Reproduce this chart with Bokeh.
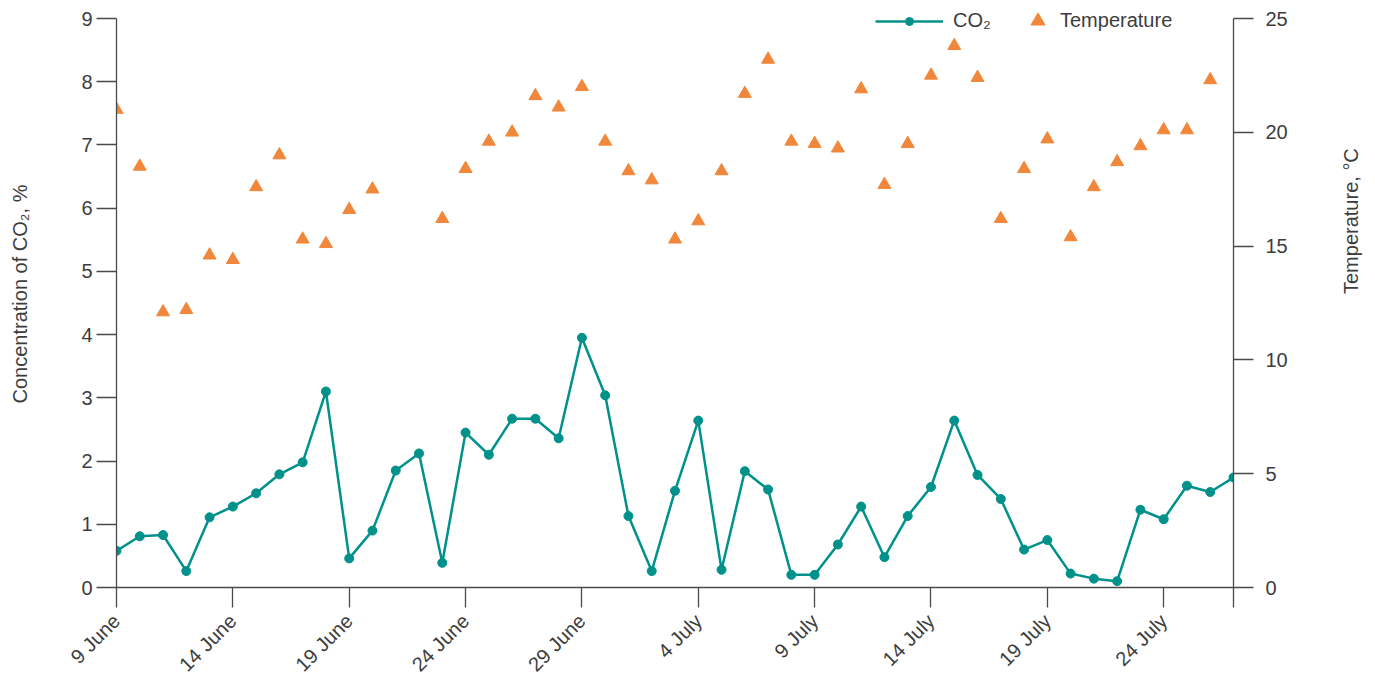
import math
import numpy as np
import pandas as pd
from bokeh.plotting import figure
from bokeh.models import (ColumnDataSource, LinearAxis, Range1d, FixedTicker,
                          Legend, LegendItem, CustomJSTickFormatter)
from bokeh.embed import file_html
from bokeh.resources import INLINE

# ---------------- data ----------------
dates = [
    "2017-06-09", "2017-06-10", "2017-06-11", "2017-06-12", "2017-06-13", "2017-06-14",
    "2017-06-15", "2017-06-16", "2017-06-17", "2017-06-18", "2017-06-19", "2017-06-20",
    "2017-06-21", "2017-06-22", "2017-06-23", "2017-06-24", "2017-06-25", "2017-06-26",
    "2017-06-27", "2017-06-28", "2017-06-29", "2017-06-30", "2017-07-01", "2017-07-02",
    "2017-07-03", "2017-07-04", "2017-07-05", "2017-07-06", "2017-07-07", "2017-07-08",
    "2017-07-09", "2017-07-10", "2017-07-11", "2017-07-12", "2017-07-13", "2017-07-14",
    "2017-07-15", "2017-07-16", "2017-07-17", "2017-07-18", "2017-07-19", "2017-07-20",
    "2017-07-21", "2017-07-22", "2017-07-23", "2017-07-24", "2017-07-25", "2017-07-26",
    "2017-07-27",
]
co2 = [0.58, 0.81, 0.83, 0.26, 1.11, 1.28, 1.49, 1.79, 1.98, 3.10,
       0.46, 0.90, 1.85, 2.12, 0.39, 2.45, 2.10, 2.67, 2.67, 2.36,
       3.95, 3.04, 1.13, 0.26, 1.53, 2.64, 0.28, 1.84, 1.55, 0.20,
       0.20, 0.68, 1.28, 0.48, 1.13, 1.59, 2.64, 1.78, 1.40, 0.60,
       0.75, 0.22, 0.14, 0.10, 1.23, 1.08, 1.61, 1.51, 1.74]
temperature = [21.0, 18.5, 12.1, 12.2, 14.6, 14.4, 17.6, 19.0, 15.3, 15.1,
               16.6, 17.5, None, None, 16.2, 18.4, 19.6, 20.0, 21.6, 21.1,
               22.0, 19.6, 18.3, 17.9, 15.3, 16.1, 18.3, 21.7, 23.2, 19.6,
               19.5, 19.3, 21.9, 17.7, 19.5, 22.5, 23.8, 22.4, 16.2, 18.4,
               19.7, 15.4, 17.6, 18.7, 19.4, 20.1, 20.1, 22.3, None]
tick_dates = ["2017-06-09", "2017-06-14", "2017-06-19", "2017-06-24", "2017-06-29",
              "2017-07-04", "2017-07-09", "2017-07-14", "2017-07-19", "2017-07-24",
              "2017-07-27"]
tick_labels = ["9 June", "14 June", "19 June", "24 June", "29 June",
               "4 July", "9 July", "14 July", "19 July", "24 July", ""]
co2_ticks = [0, 1, 2, 3, 4, 5, 6, 7, 8, 9]
temp_ticks = [0, 5, 10, 15, 20, 25]
co2_max = 9
temp_max = 25

# ---------------- layout / styling ----------------
TEAL = "#00918B"
ORANGE = "#F0873A"
TEXT = "#3d3d3d"
AXIS = "#4a4a4a"
FONT = "Liberation Sans"

W, H = 1375, 686
BORDER_L, BORDER_R, BORDER_B = 116, 140, 99
TOP_GAP = 18                       # free pixels above the top tick, inside the frame
frame_h = H - BORDER_B
pad = TOP_GAP / (frame_h - TOP_GAP)  # fraction of axis span that lies above top tick

x = pd.to_datetime(dates)
source = ColumnDataSource(dict(
    date=x,
    co2=np.array(co2, dtype=float),
    temp=np.array([np.nan if t is None else t for t in temperature], dtype=float),
))

tick_ms = [float(pd.Timestamp(d).value // 10**6) for d in tick_dates]

p = figure(width=W, height=H, x_axis_type="datetime",
           x_range=Range1d(pd.Timestamp(dates[0]), pd.Timestamp(dates[-1])),
           y_range=Range1d(0, co2_max * (1 + pad)),
           output_backend="svg", toolbar_location=None,
           min_border_left=BORDER_L, min_border_right=BORDER_R,
           min_border_top=0, min_border_bottom=BORDER_B)
p.outline_line_color = None
p.grid.visible = False
p.background_fill_color = "white"

p.extra_y_ranges = {"temp": Range1d(0, temp_max * (1 + pad))}
raxis = LinearAxis(y_range_name="temp", ticker=FixedTicker(ticks=temp_ticks),
                   axis_label="Temperature, °C", bounds=(0, temp_max))
p.add_layout(raxis, "right")

xaxis = p.xaxis[0]
yaxis = p.yaxis[0]
xaxis.ticker = FixedTicker(ticks=tick_ms)
xaxis.formatter = CustomJSTickFormatter(
    args=dict(tvals=tick_ms, tlabels=tick_labels),
    code="const i = tvals.indexOf(tick); return i >= 0 ? tlabels[i] : '';")
xaxis.major_label_orientation = math.pi / 4
xaxis.major_label_standoff = 10

yaxis.ticker = FixedTicker(ticks=co2_ticks)
yaxis.bounds = (0, co2_max)
yaxis.axis_label = "Concentration of CO₂, %"
yaxis.major_label_standoff = 4
yaxis.axis_label_standoff = 47
raxis.major_label_standoff = 12
raxis.axis_label_standoff = 60
raxis.axis_label_orientation = math.pi / 2

for ax in (xaxis, yaxis, raxis):
    ax.axis_line_color = AXIS
    ax.axis_line_width = 1.3
    ax.major_tick_line_color = AXIS
    ax.major_tick_line_width = 1.3
    ax.major_tick_out = 20
    ax.major_tick_in = 0
    ax.minor_tick_line_color = None
    ax.major_label_text_font = FONT
    ax.major_label_text_font_size = "20px"
    ax.major_label_text_color = TEXT
    ax.axis_label_text_font = FONT
    ax.axis_label_text_font_size = "20px"
    ax.axis_label_text_font_style = "normal"
    ax.axis_label_text_color = TEXT

line = p.line("date", "co2", source=source, line_color=TEAL, line_width=2.5)
dots = p.scatter("date", "co2", source=source, size=9, color=TEAL)
tri = p.scatter("date", "temp", source=source, marker="triangle", size=13,
                color=ORANGE, y_range_name="temp")

common = dict(orientation="horizontal", padding=0, margin=0, spacing=0,
              border_line_color=None, background_fill_alpha=0,
              label_text_font=FONT, label_text_font_size="20px",
              label_text_color=TEXT)
leg1 = Legend(items=[LegendItem(label="CO₂", renderers=[line, dots])],
              location=(759, 555), glyph_width=68, glyph_height=20,
              label_standoff=10, **common)
leg2 = Legend(items=[LegendItem(label="Temperature", renderers=[tri])],
              location=(904, 549), glyph_width=35, glyph_height=35,
              label_standoff=5, **common)
p.add_layout(leg1, "center")
p.add_layout(leg2, "center")

open("out.html", "w").write(file_html(p, INLINE))
